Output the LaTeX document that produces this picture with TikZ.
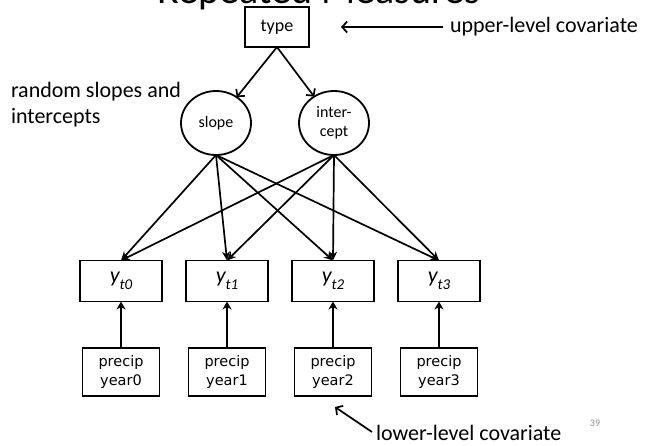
\documentclass[tikz,border=0pt]{standalone}
\usepackage{fontspec}
\setmainfont{Carlito}
\newfontfamily\boxfont{DejaVu Sans}
\usetikzlibrary{arrows.meta,shapes.geometric}
\begin{document}
\begin{tikzpicture}[x=1pt,y=-1pt,
  every node/.style={inner sep=0pt, outer sep=0pt},
  box/.style={draw, line width=1.8pt, rectangle},
  ybox/.style={box, minimum width=82pt, minimum height=41pt},
  pbox/.style={box, minimum width=77pt, minimum height=48pt, align=center,
    font=\boxfont\fontsize{14.5}{19}\selectfont},
  latent/.style={draw, line width=1.8pt, ellipse, minimum width=70pt,
    minimum height=64pt, align=center, font=\fontsize{16}{19}\selectfont},
  label/.style={font=\fontsize{22}{26}\selectfont},
  link/.style={line width=1.7pt, -{Stealth[length=9pt,width=8pt]}},
  barb/.style={line width=1.7pt, -{Straight Barb[length=5pt,width=11pt,line width=1.7pt]}},
  thick link/.style={line width=2.8pt, -{Stealth[length=8pt,width=9pt]}}
]
\useasboundingbox (0,0) rectangle (646,445);
\clip (0,0) rectangle (646,445);

% slide title, partly cut off by the top edge
\node[anchor=base, font=\fontsize{40}{48}\selectfont] (title) at (319,3) {Repeated Measures};

% upper level
\node[box, minimum width=64pt, minimum height=40pt, font=\fontsize{18}{20}\selectfont] (type) at (277,27) {type};
\node[latent] (slope) at (216,123) {\raisebox{-0.2em}{slope}};
\node[latent] (icept) at (334,123) {inter-\\cept};

% repeated outcomes
\foreach \i/\x in {0/121,1/227,2/333,3/439}{
  \node[ybox] (y\i) at (\x,281) {\raisebox{-0.15em}{\itshape\fontsize{22}{24}\selectfont y\raisebox{-0.32em}{\fontsize{15}{16}\selectfont t\i}}};
  \node[pbox] (p\i) at (\x,372) {precip\\year\i};
}

% paths
\draw[barb] (type.south) -- (slope);
\draw[barb] (type.south) -- (icept);
\foreach \i in {0,...,3}{
  \draw[link] (slope.south) -- (y\i.north);
  \draw[link] (icept.south) -- (y\i.north);
  \draw[thick link] (p\i.north) -- (y\i.south);
}

% annotations
\node[label, anchor=west] (upper) at (450,27) {upper-level covariate};
\coordinate (upperfrom) at (443,27);
\draw[barb] (upperfrom) -- (type.east -| 341,0);

\node[label, anchor=north west, align=left] (random) at (11,82) {random slopes and\\intercepts};

\node[label, anchor=west] (lower) at (376,433) {lower-level covariate};
\coordinate (lowerfrom) at (372,432);
\coordinate (lowerto) at (335,407);
\draw[barb] (lowerfrom) -- (lowerto);

\node[text=black!45, font=\fontsize{10}{12}\selectfont] (pagenum) at (595,423) {39};
\end{tikzpicture}
\end{document}
